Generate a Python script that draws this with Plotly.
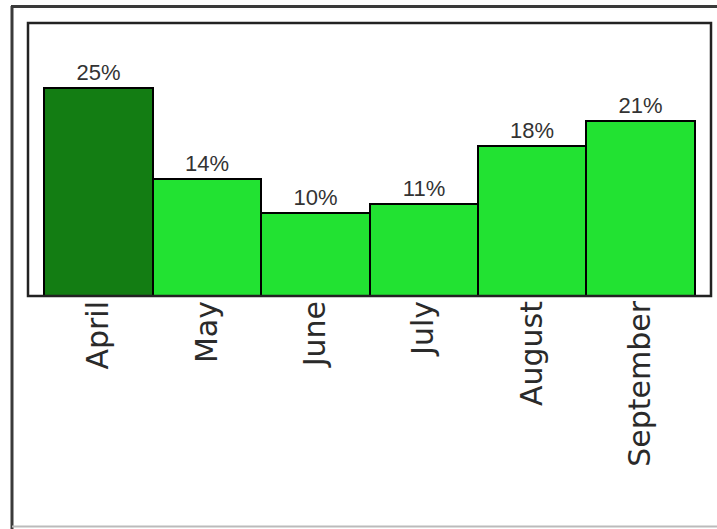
import plotly.graph_objects as go

months = ["April", "May", "June", "July", "August", "September"]
shares = [25, 14, 10, 11, 18, 21]
bar_colors = ["#137d13", "#22e232", "#22e232", "#22e232", "#22e232", "#22e232"]

W, H = 717, 529
L, R, T, B = 28, 6, 23, 233
pw, ph = W - L - R, H - T - B


def px_x(x):
    return (x - L) / pw


def px_y(y):
    return (H - B - y) / ph


fig = go.Figure(
    go.Bar(
        x=months,
        y=shares,
        marker=dict(color=bar_colors, line=dict(color="black", width=2)),
        text=[f"{v}%" for v in shares],
        textposition="outside",
        textfont=dict(family="Liberation Sans, Arial", size=22, color="#333333"),
        cliponaxis=False,
    )
)

fig.update_layout(
    width=W,
    height=H,
    margin=dict(l=L, r=R, t=T, b=B),
    paper_bgcolor="white",
    plot_bgcolor="white",
    bargap=0,
    showlegend=False,
    xaxis=dict(
        range=[-0.65, 5.65],
        tickangle=-90,
        tickfont=dict(family="DejaVu Sans", size=30, color="#2a2a2a"),
        showline=False,
        showgrid=False,
        ticks="",
        ticklabelstandoff=-2,
    ),
    yaxis=dict(
        range=[0, 32.8],
        showticklabels=False,
        showgrid=False,
        zeroline=False,
        showline=False,
        ticks="",
    ),
    shapes=[
        # plot area frame
        dict(type="rect", xref="paper", yref="paper", x0=0, x1=1, y0=0, y1=1,
             line=dict(color="#222222", width=2.5), layer="above"),
        # outer frame: left and top edges
        dict(type="line", xref="paper", yref="paper",
             x0=px_x(12), x1=px_x(12), y0=px_y(6), y1=px_y(530),
             line=dict(color="#3a3a3a", width=3)),
        dict(type="line", xref="paper", yref="paper",
             x0=px_x(11), x1=px_x(720), y0=px_y(6.5), y1=px_y(6.5),
             line=dict(color="#3a3a3a", width=3)),
        # bottom edge
        dict(type="line", xref="paper", yref="paper",
             x0=px_x(12), x1=px_x(720), y0=px_y(526.5), y1=px_y(526.5),
             line=dict(color="#bbbbbb", width=2)),
    ],
)

fig.write_html("out.html")
